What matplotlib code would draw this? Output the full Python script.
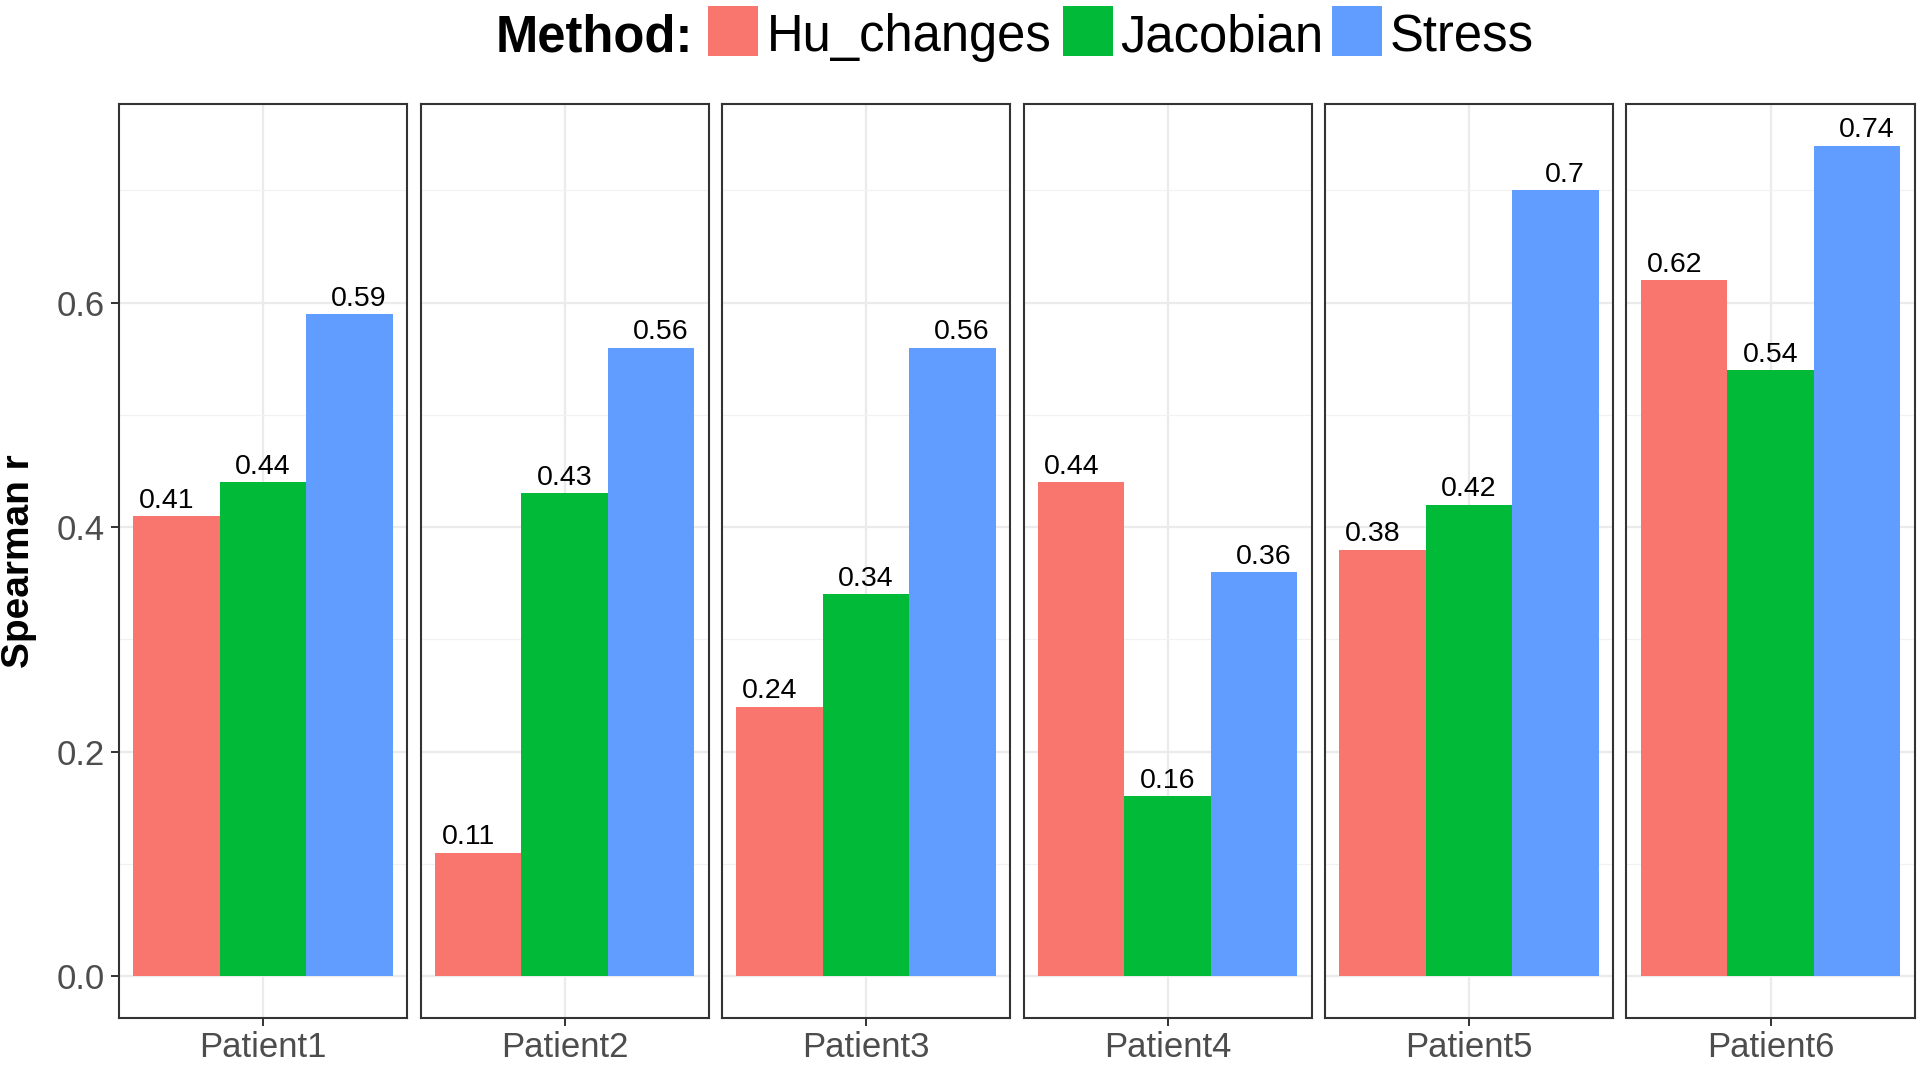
import matplotlib
matplotlib.use("Agg")
import matplotlib.pyplot as plt
from matplotlib.patches import Rectangle

plt.rcParams["font.family"] = ["Liberation Sans", "DejaVu Sans"]

# ---- data ----
patients = ["Patient1", "Patient2", "Patient3", "Patient4", "Patient5", "Patient6"]
methods = ["Hu_changes", "Jacobian", "Stress"]
hu_changes = [0.41, 0.11, 0.24, 0.44, 0.38, 0.62]
jacobian = [0.44, 0.43, 0.34, 0.16, 0.42, 0.54]
stress = [0.59, 0.56, 0.56, 0.36, 0.70, 0.74]
colors = ["#F8766D", "#00BA38", "#619CFF"]
y_ticks = [0.0, 0.2, 0.4, 0.6]

series = [hu_changes, jacobian, stress]

W, H = 1920, 1065
fig = plt.figure(figsize=(W / 100, H / 100), dpi=100)

left, pw, gap = 119 / W, 288 / W, 13.5 / W
bottom, top = 1 - 1017.6 / H, 1 - 104 / H
bw = 0.3
bar_off = [-0.3, 0.0, 0.3]
lab_off = [-1 / 3, 0.0, 1 / 3]   # labels dodged a bit wider than the bars

for i, p in enumerate(patients):
    ax = fig.add_axes([left + i * (pw + gap), bottom, pw, top - bottom])
    ax.set_xlim(-0.5, 0.5)
    ax.set_ylim(-0.037, 0.777)
    ax.set_yticks(y_ticks)
    ax.set_yticks([0.1, 0.3, 0.5, 0.7], minor=True)
    ax.set_xticks([0])
    ax.set_xticklabels([p])
    ax.grid(True, which="major", color="#EBEBEB", lw=1.6)
    ax.grid(True, which="minor", axis="y", color="#F2F2F2", lw=0.9)
    ax.set_axisbelow(True)
    for j, vals in enumerate(series):
        v = vals[i]
        ax.bar(bar_off[j], v, width=bw, color=colors[j], edgecolor="none", zorder=2)
        ax.text(lab_off[j], v + 0.002, f"{v:g}", ha="center", va="bottom",
                fontsize=20.5, color="black", zorder=3)
    for s in ax.spines.values():
        s.set_color("#333333")
        s.set_linewidth(1.5)
    ax.tick_params(axis="both", which="major", length=6, width=1.4, color="#333333",
                   labelsize=25, labelcolor="#4D4D4D", pad=4)
    ax.tick_params(axis="y", which="minor", length=0)
    if i == 0:
        ax.set_yticklabels([f"{t:.1f}" for t in y_ticks])
        ax.set_ylabel("Spearman r", fontsize=28, fontweight="bold", labelpad=14)
    else:
        ax.tick_params(axis="y", which="both", left=False, labelleft=False)

# ---- legend (top, horizontal) ----
ky0, ky1 = 1 - 56 / H, 1 - 6 / H
yc = (ky0 + ky1) / 2 - 7 / H
fig.text(496 / W, yc, "Method:", fontsize=36.5, fontweight="bold", va="center", ha="left")
keys = [(708, 766.5), (1063, 1120), (1332, 1390)]
for (kx, tx), m, c in zip(keys, methods, colors):
    fig.add_artist(Rectangle((kx / W, ky0), 50 / W, ky1 - ky0, transform=fig.transFigure,
                             facecolor=c, edgecolor="none"))
    fig.text(tx / W, yc, m, fontsize=36.5, va="center", ha="left")

fig.savefig("out.png", dpi=100)
